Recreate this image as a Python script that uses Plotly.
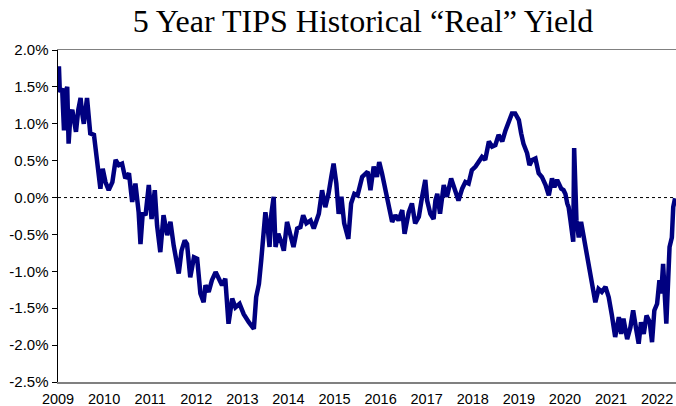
import plotly.graph_objects as go

years = [
    2009.02, 2009.04, 2009.09, 2009.13, 2009.16, 2009.20, 2009.23, 2009.27, 2009.31, 2009.34,
    2009.39, 2009.44, 2009.49, 2009.52, 2009.56, 2009.63, 2009.67, 2009.70, 2009.78, 2009.81,
    2009.87, 2009.92, 2009.97, 2010.03, 2010.10, 2010.18, 2010.25, 2010.32, 2010.39, 2010.46,
    2010.54, 2010.61, 2010.68, 2010.75, 2010.79, 2010.84, 2010.90, 2010.97, 2011.03, 2011.10,
    2011.15, 2011.22, 2011.29, 2011.37, 2011.44, 2011.51, 2011.62, 2011.68, 2011.75, 2011.80,
    2011.87, 2011.95, 2012.02, 2012.09, 2012.16, 2012.20, 2012.27, 2012.34, 2012.42, 2012.49,
    2012.56, 2012.63, 2012.70, 2012.78, 2012.85, 2012.94, 2013.03, 2013.14, 2013.25, 2013.30,
    2013.36, 2013.41, 2013.46, 2013.50, 2013.54, 2013.59, 2013.63, 2013.68, 2013.72, 2013.78,
    2013.86, 2013.90, 2013.97, 2014.04, 2014.11, 2014.19, 2014.26, 2014.32, 2014.39, 2014.48,
    2014.55, 2014.66, 2014.73, 2014.80, 2014.87, 2014.93, 2014.98, 2015.04, 2015.09, 2015.15,
    2015.21, 2015.30, 2015.36, 2015.43, 2015.50, 2015.60, 2015.67, 2015.72, 2015.78, 2015.85,
    2015.92, 2015.97, 2016.03, 2016.10, 2016.18, 2016.25, 2016.32, 2016.39, 2016.47, 2016.52,
    2016.61, 2016.68, 2016.75, 2016.83, 2016.90, 2016.97, 2017.01, 2017.08, 2017.15, 2017.19,
    2017.23, 2017.29, 2017.37, 2017.44, 2017.53, 2017.60, 2017.69, 2017.77, 2017.84, 2017.91,
    2017.98, 2018.06, 2018.13, 2018.20, 2018.27, 2018.35, 2018.42, 2018.49, 2018.56, 2018.64,
    2018.71, 2018.78, 2018.85, 2018.92, 2019.00, 2019.05, 2019.10, 2019.18, 2019.23, 2019.29,
    2019.36, 2019.43, 2019.50, 2019.58, 2019.65, 2019.72, 2019.77, 2019.83, 2019.92, 2019.97,
    2020.01, 2020.05, 2020.08, 2020.12, 2020.18, 2020.20, 2020.25, 2020.30, 2020.35, 2020.41,
    2020.46, 2020.54, 2020.59, 2020.66, 2020.73, 2020.80, 2020.88, 2020.95, 2021.02, 2021.09,
    2021.17, 2021.22, 2021.27, 2021.35, 2021.42, 2021.48, 2021.55, 2021.60, 2021.65, 2021.71,
    2021.77, 2021.84, 2021.89, 2021.94, 2022.00, 2022.05, 2022.09, 2022.13, 2022.20, 2022.23,
    2022.27, 2022.32, 2022.35, 2022.39,
]

# 5-year TIPS real yield, percent
real_yield = [
    1.78, 1.43, 1.48, 0.91, 1.43, 1.50, 0.73, 1.12, 1.19, 1.03,
    0.89, 1.19, 1.35, 1.16, 1.00, 1.35, 1.12, 0.87, 0.85, 0.67,
    0.44, 0.12, 0.39, 0.21, 0.10, 0.21, 0.51, 0.44, 0.46, 0.26,
    0.33, -0.06, 0.19, -0.20, -0.63, -0.20, -0.24, 0.17, -0.29, 0.10,
    -0.38, -0.74, -0.24, -0.51, -0.33, -0.65, -1.03, -0.72, -0.58, -0.63,
    -1.08, -0.81, -0.83, -1.30, -1.42, -1.19, -1.28, -1.12, -1.01, -1.12,
    -1.19, -1.10, -1.71, -1.37, -1.49, -1.44, -1.58, -1.69, -1.78, -1.35,
    -1.17, -0.85, -0.54, -0.20, -0.35, -0.67, -0.22, 0.01, -0.67, -0.49,
    -0.63, -0.72, -0.33, -0.48, -0.67, -0.42, -0.40, -0.24, -0.35, -0.31,
    -0.42, -0.22, 0.10, -0.13, 0.05, 0.28, 0.46, 0.19, -0.22, 0.01,
    -0.35, -0.56, -0.08, 0.05, 0.03, 0.28, 0.33, 0.35, 0.10, 0.42,
    0.28, 0.48, 0.33, 0.10, -0.13, -0.33, -0.24, -0.31, -0.17, -0.49,
    -0.20, -0.08, -0.35, -0.26, 0.01, 0.24, -0.04, -0.22, -0.29, -0.04,
    0.05, -0.22, 0.17, 0.01, 0.26, 0.14, -0.04, 0.12, 0.21, 0.19,
    0.37, 0.42, 0.48, 0.55, 0.51, 0.76, 0.69, 0.71, 0.85, 0.76,
    0.91, 1.03, 1.14, 1.14, 1.05, 0.87, 0.73, 0.60, 0.44, 0.51,
    0.53, 0.33, 0.28, 0.17, 0.03, 0.26, 0.14, 0.24, 0.12, 0.10,
    0.05, -0.08, -0.13, -0.31, -0.60, 0.67, -0.31, -0.54, -0.33, -0.54,
    -0.72, -0.99, -1.21, -1.42, -1.24, -1.28, -1.21, -1.35, -1.60, -1.89,
    -1.62, -1.85, -1.64, -1.92, -1.76, -1.53, -1.80, -1.98, -1.69, -1.85,
    -1.60, -1.69, -1.96, -1.53, -1.44, -1.12, -1.30, -0.90, -1.71, -1.03,
    -0.67, -0.54, -0.13, -0.01,
]

year_ticks = list(range(2009, 2023))
year_labels = [str(y) for y in year_ticks]
y_ticks = [-2.5, -2.0, -1.5, -1.0, -0.5, 0.0, 0.5, 1.0, 1.5, 2.0]
y_labels = ["-2.5%", "-2.0%", "-1.5%", "-1.0%", "-0.5%", "0.0%", "0.5%", "1.0%", "1.5%", "2.0%"]

fig = go.Figure()
fig.add_trace(go.Scatter(
    x=years, y=real_yield, mode="lines",
    line=dict(color="#000080", width=4.5),
    showlegend=False, hoverinfo="skip",
))
fig.add_hline(y=0, line=dict(color="black", width=1, dash="dot"), layer="below")

fig.update_layout(
    width=676, height=406,
    margin=dict(l=58, r=0, t=50, b=24),
    paper_bgcolor="white", plot_bgcolor="white",
    title=dict(
        text="5 Year TIPS Historical \u201cReal\u201d Yield",
        font=dict(family="Liberation Serif, Times New Roman, serif", size=32, color="black"),
        x=0.537, xanchor="center", y=0.948, yanchor="middle",
    ),
    font=dict(family="Liberation Sans, Arial, sans-serif", size=15, color="black"),
)
fig.update_xaxes(
    range=[2009.0, 2022.41], tickvals=year_ticks, ticktext=year_labels,
    showgrid=False, zeroline=False, automargin=False,
    showline=True, linecolor="#808080", linewidth=1.5, mirror=True,
    ticks="outside", ticklen=3, tickcolor="rgba(0,0,0,0)",
    tickfont=dict(size=14.5),
)
fig.update_yaxes(
    range=[-2.5, 2.0], tickvals=y_ticks, ticktext=y_labels,
    showgrid=False, zeroline=False, automargin=False,
    showline=True, linecolor="black", linewidth=1.5,
    ticks="outside", ticklen=5, tickcolor="black", tickwidth=1,
    ticklabelstandoff=0,
)

fig.write_html(
    "out.html",
    config={"displayModeBar": False, "staticPlot": True},
    post_script="document.body.style.margin='0';document.body.style.overflow='hidden';",
)
